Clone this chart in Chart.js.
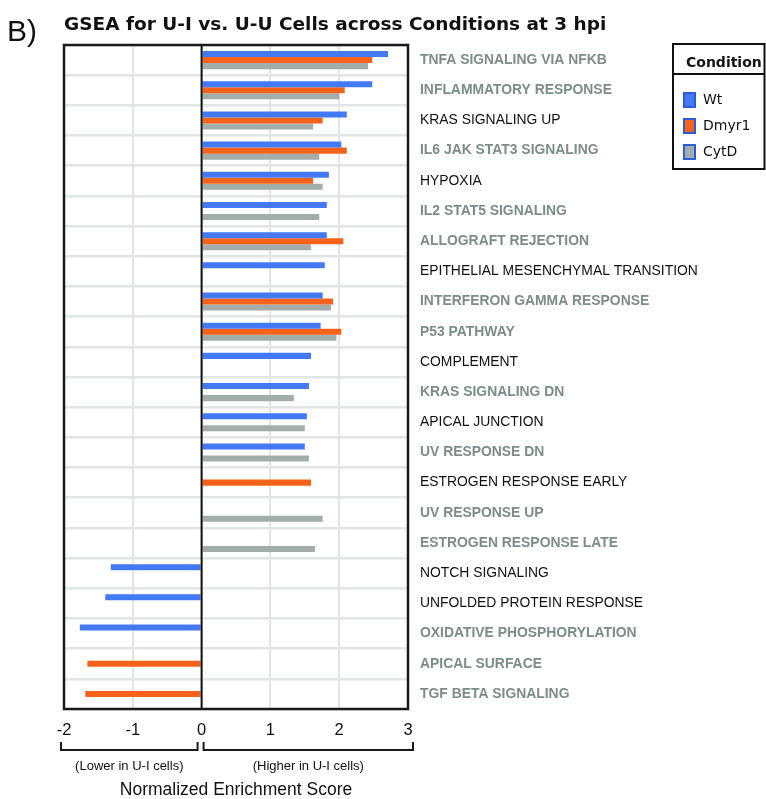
<!DOCTYPE html>
<html>
<head>
<meta charset="utf-8">
<title>GSEA for U-I vs. U-U Cells</title>
<script src="https://cdn.jsdelivr.net/npm/chart.js@4/dist/chart.umd.min.js"></script>
<style>
  html, body { margin: 0; padding: 0; background: #fff; }
</style>
</head>
<body>
<canvas id="gseaChart" width="766" height="799"></canvas>
<script>
// hallmark pathways, top to bottom
var pathways = [
    "TNFA SIGNALING VIA NFKB", "INFLAMMATORY RESPONSE", "KRAS SIGNALING UP",
    "IL6 JAK STAT3 SIGNALING", "HYPOXIA", "IL2 STAT5 SIGNALING",
    "ALLOGRAFT REJECTION", "EPITHELIAL MESENCHYMAL TRANSITION",
    "INTERFERON GAMMA RESPONSE", "P53 PATHWAY", "COMPLEMENT",
    "KRAS SIGNALING DN", "APICAL JUNCTION", "UV RESPONSE DN",
    "ESTROGEN RESPONSE EARLY", "UV RESPONSE UP", "ESTROGEN RESPONSE LATE",
    "NOTCH SIGNALING", "UNFOLDED PROTEIN RESPONSE", "OXIDATIVE PHOSPHORYLATION",
    "APICAL SURFACE", "TGF BETA SIGNALING"
];

// pathways whose label is printed bold grey
var highlighted = [
    "TNFA SIGNALING VIA NFKB", "INFLAMMATORY RESPONSE", "IL6 JAK STAT3 SIGNALING",
    "IL2 STAT5 SIGNALING", "ALLOGRAFT REJECTION", "INTERFERON GAMMA RESPONSE",
    "P53 PATHWAY", "KRAS SIGNALING DN", "UV RESPONSE DN", "UV RESPONSE UP",
    "ESTROGEN RESPONSE LATE", "OXIDATIVE PHOSPHORYLATION", "APICAL SURFACE",
    "TGF BETA SIGNALING"
];

var conditions = ["Wt", "Dmyr1", "CytD"];

// normalized enrichment scores (null = not significant)
var wtNES = [2.71, 2.48, 2.11, 2.03, 1.85, 1.82, 1.82, 1.79, 1.76, 1.73, 1.59,
    1.56, 1.53, 1.50, null, null, null, -1.32, -1.40, -1.77, null, null];
var dmyr1NES = [2.48, 2.08, 1.76, 2.11, 1.62, null, 2.06, null, 1.91, 2.03, null,
    null, null, null, 1.59, null, null, null, null, null, -1.66, -1.69];
var cytdNES = [2.42, 2.00, 1.62, 1.71, 1.76, 1.71, 1.59, null, 1.88, 1.96, null,
    1.34, 1.50, 1.56, null, 1.76, 1.65, null, null, null, null, null];

var xMin = -2, xMax = 3;
var sideLabels = ["(Lower in U-I cells)", "(Higher in U-I cells)"];

var FONT = "'Liberation Sans', Arial, Helvetica, sans-serif";

var extras = {
    id: "extras",
    afterDatasetsDraw: function(chart) {
        var ctx = chart.ctx, area = chart.chartArea;
        var zx = chart.scales.x.getPixelForValue(0);
        ctx.save();
        ctx.strokeStyle = "#111";
        ctx.lineWidth = 2;
        ctx.beginPath();
        ctx.moveTo(zx, area.top);
        ctx.lineTo(zx, area.bottom);
        ctx.stroke();
        ctx.restore();
    },
    afterDraw: function(chart) {
        var ctx = chart.ctx, area = chart.chartArea, x = chart.scales.x;
        ctx.save();

        // plot frame
        ctx.strokeStyle = "#1a1a1a";
        ctx.lineWidth = 2.5;
        ctx.strokeRect(area.left, area.top, area.right - area.left, area.bottom - area.top);

        // panel letter
        ctx.fillStyle = "#111";
        ctx.font = "30px " + FONT;
        ctx.textAlign = "left";
        ctx.textBaseline = "alphabetic";
        ctx.fillText("B)", 7, 41);

        // brackets under the axis
        var y0 = area.bottom + 33, y1 = area.bottom + 41;
        var spans = [
            [x.getPixelForValue(xMin) - 3, x.getPixelForValue(0) - 4],
            [x.getPixelForValue(0) + 2, x.getPixelForValue(xMax) + 5]
        ];
        ctx.lineWidth = 2;
        ctx.font = "13px " + FONT;
        ctx.textAlign = "center";
        ctx.textBaseline = "middle";
        spans.forEach(function(s, i) {
            ctx.beginPath();
            ctx.moveTo(s[0], y0);
            ctx.lineTo(s[0], y1);
            ctx.lineTo(s[1], y1);
            ctx.lineTo(s[1], y0);
            ctx.stroke();
            ctx.fillText(sideLabels[i], (s[0] + s[1]) / 2, area.bottom + 57);
        });

        // legend box
        var lx = 673, ly = 44, rx = chart.width - 1.5, by = 169;
        ctx.lineWidth = 2;
        ctx.strokeStyle = "#111";
        ctx.strokeRect(lx, ly, rx - lx, by - ly);
        ctx.beginPath();
        ctx.moveTo(lx, 74);
        ctx.lineTo(rx, 74);
        ctx.stroke();
        ctx.font = "bold 14px 'DejaVu Sans', sans-serif";
        ctx.textAlign = "left";
        ctx.fillText("Condition", 686, 63);
        ctx.font = "14px 'DejaVu Sans', sans-serif";
        chart.data.datasets.forEach(function(ds, i) {
            var cy = 100 + i * 26;
            ctx.fillStyle = ds.backgroundColor;
            ctx.fillRect(684, cy - 7, 11, 14);
            ctx.strokeStyle = "#2d5cd6";
            ctx.lineWidth = 2;
            ctx.strokeRect(684, cy - 7, 11, 14);
            ctx.fillStyle = "#111";
            ctx.fillText(ds.label, 703, cy);
        });
        ctx.restore();
    }
};

new Chart(document.getElementById("gseaChart"), {
    type: "bar",
    data: {
        labels: pathways,
        datasets: [
            { label: conditions[0], data: wtNES, backgroundColor: "#4479f6" },
            { label: conditions[1], data: dmyr1NES, backgroundColor: "#f6621a" },
            { label: conditions[2], data: cytdNES, backgroundColor: "#a3adab" }
        ]
    },
    options: {
        indexAxis: "y",
        responsive: false,
        animation: false,
        categoryPercentage: 0.6,
        barPercentage: 1.0,
        layout: { padding: { left: 64, top: 0, right: 0, bottom: 0 } },
        plugins: {
            legend: { display: false },
            tooltip: { enabled: false },
            title: {
                display: true,
                text: "GSEA for U-I vs. U-U Cells across Conditions at 3 hpi",
                align: "start",
                color: "#111",
                font: { family: "'DejaVu Sans', sans-serif", size: 18.5, weight: "bold" },
                padding: { top: 14, bottom: 8.8 }
            }
        },
        scales: {
            x: {
                min: xMin,
                max: xMax,
                border: { display: false },
                grid: {
                    color: "#e1e5e4",
                    lineWidth: 2,
                    drawTicks: false
                },
                ticks: {
                    stepSize: 1,
                    padding: 12,
                    color: "#111",
                    font: { family: FONT, size: 16.5 }
                },
                title: {
                    display: true,
                    text: "Normalized Enrichment Score",
                    color: "#111",
                    font: { family: FONT, size: 17.5, lineHeight: 1 },
                    padding: { top: 0, bottom: 0 }
                },
                afterFit: function(scale) { scale.height = 90; }
            },
            y: {
                position: "right",
                border: { display: false },
                grid: {
                    color: "#e1e5e4",
                    lineWidth: 2.5,
                    drawTicks: false
                },
                ticks: {
                    autoSkip: false,
                    padding: 12,
                    color: function(c) {
                        return highlighted.indexOf(pathways[c.index]) >= 0 ? "#7d8c8b" : "#111";
                    },
                    font: function(c) {
                        var bold = highlighted.indexOf(pathways[c.index]) >= 0;
                        return { family: FONT, size: 13.9, weight: bold ? "bold" : "normal" };
                    }
                },
                afterFit: function(scale) { scale.width = 358; }
            }
        }
    },
    plugins: [extras]
});
</script>
</body>
</html>
